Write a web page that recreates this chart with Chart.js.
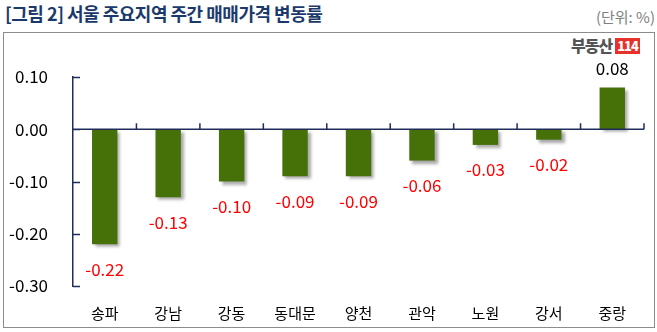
<!DOCTYPE html>
<html>
<head>
<meta charset="utf-8">
<script src="https://cdn.jsdelivr.net/npm/chart.js@4/dist/chart.umd.min.js"></script>
<style>
  body { margin: 0; background: #fff; font-family: "Noto Sans CJK KR", sans-serif; }
  .wrap { position: relative; width: 657px; height: 332px; overflow: hidden; }
  .title { position: absolute; left: 5px; top: 0px; font-size: 18px; font-weight: bold; color: #1b3a6b; letter-spacing: -0.5px; }
  .unit { position: absolute; right: 2px; top: 6px; font-size: 15px; color: #808080; }
  .box { position: absolute; left: 3px; top: 32px; width: 652px; height: 296px; border: 1px solid #8c8c8c; box-sizing: border-box; }
  .logo { position: absolute; left: 571px; top: 36px; height: 18px; font-size: 16px; line-height: 18px; font-weight: 900; color: #555; letter-spacing: -1px; }
  .logo span { display: inline-block; background: #e8312a; color: #fff; height: 16px; line-height: 16px; padding: 0 2px; margin-left: 3px; font-size: 13px; letter-spacing: -1px; vertical-align: 1px; }
  canvas { position: absolute; left: 0; top: 0; }
</style>
</head>
<body>
<div class="wrap">
  <div class="title">[그림 2] 서울 주요지역 주간 매매가격 변동률</div>
  <div class="unit">(단위: %)</div>
  <div class="box"></div>
  <div class="logo">부동산<span>114</span></div>
  <canvas id="myChart" width="657" height="332"></canvas>
</div>
<script>
const regions = ['송파', '강남', '강동', '동대문', '양천', '관악', '노원', '강서', '중랑'];
const changes = [-0.22, -0.13, -0.10, -0.09, -0.09, -0.06, -0.03, -0.02, 0.08];
const yTicks = [0.10, 0.00, -0.10, -0.20, -0.30];

const axisColor = '#1f2d5a';
const fontFamily = '"Noto Sans CJK KR", sans-serif';

// bar shadow
const shadowPlugin = {
    id: 'shadow',
    beforeDatasetsDraw(chart) {
        const c = chart.ctx;
        c.save();
        c.shadowColor = 'rgba(0,0,0,0.35)';
        c.shadowOffsetX = 3;
        c.shadowOffsetY = 3;
        c.shadowBlur = 3;
    },
    afterDatasetsDraw(chart) {
        chart.ctx.restore();
    }
};

// zero line + inward tick marks + value labels
const axisPlugin = {
    id: 'axisMarks',
    afterDraw(chart) {
        const c = chart.ctx;
        const x = chart.scales.x;
        const y = chart.scales.y;
        const area = chart.chartArea;
        const y0 = y.getPixelForValue(0);
        c.save();
        c.strokeStyle = axisColor;
        c.lineWidth = 1.5;
        c.beginPath();
        c.moveTo(area.left, y0);
        c.lineTo(area.right, y0);
        yTicks.forEach(function (v) {
            const py = Math.round(y.getPixelForValue(v)) + 0.5;
            c.moveTo(area.left, py);
            c.lineTo(area.left + 7, py);
        });
        for (let i = 0; i < regions.length; i++) {
            const px = i < regions.length - 1
                ? (x.getPixelForValue(i) + x.getPixelForValue(i + 1)) / 2
                : area.right;
            c.moveTo(px, y0);
            c.lineTo(px, y0 - 6);
        }
        c.stroke();

        c.font = '17px ' + fontFamily;
        c.textAlign = 'center';
        c.textBaseline = 'middle';
        const meta = chart.getDatasetMeta(0);
        meta.data.forEach(function (bar, i) {
            const v = changes[i];
            if (v < 0) {
                c.fillStyle = '#ff0000';
                c.fillText(v.toFixed(2), bar.x, bar.y + 25);
            } else {
                c.fillStyle = '#000';
                c.fillText(v.toFixed(2), bar.x, bar.y - 19);
            }
        });
        c.restore();
    }
};

const data = {
    labels: regions,
    datasets: [
        {
            data: changes,
            backgroundColor: '#467008',
            barPercentage: 0.4,
            categoryPercentage: 1.0
        }
    ]
};

const config = {
    type: 'bar',
    data: data,
    options: {
        responsive: false,
        animation: false,
        layout: { padding: { top: 77, right: 13, left: 0, bottom: 0 } },
        plugins: {
            legend: { display: false },
            tooltip: { enabled: false }
        },
        scales: {
            x: {
                grid: { display: false },
                border: { display: false },
                ticks: {
                    color: '#000',
                    font: { family: fontFamily, size: 15 },
                    padding: 10
                },
                afterFit: function (scale) { scale.height = 46; }
            },
            y: {
                min: -0.3,
                max: 0.1,
                grid: { display: false, drawTicks: false },
                border: { display: true, color: axisColor, width: 1.5 },
                ticks: {
                    stepSize: 0.1,
                    color: '#000',
                    font: { family: fontFamily, size: 17 },
                    padding: 25,
                    callback: function (v) { return Number(v).toFixed(2); }
                },
                afterFit: function (scale) { scale.width = 73; }
            }
        }
    },
    plugins: [shadowPlugin, axisPlugin]
};

const ctx = document.getElementById('myChart').getContext('2d');
new Chart(ctx, config);
</script>
</body>
</html>
